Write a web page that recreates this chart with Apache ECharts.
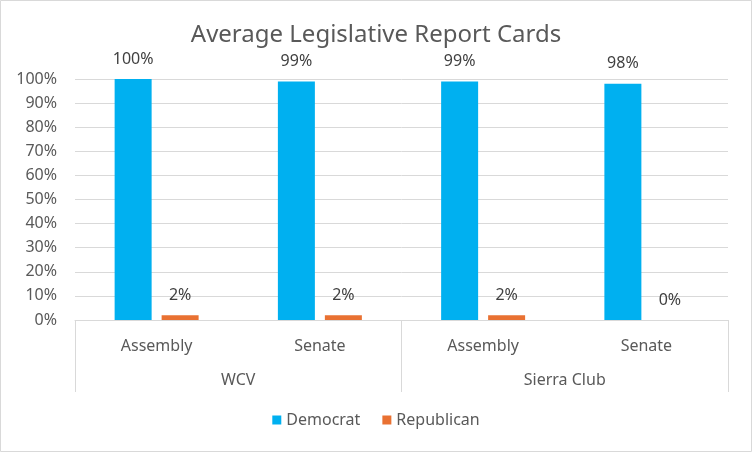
<!DOCTYPE html>
<html>
<head>
<meta charset="utf-8">
<script src="https://cdn.jsdelivr.net/npm/echarts@6/dist/echarts.min.js"></script>
<style>
  html, body { margin: 0; padding: 0; background: #fff; }
  #chart { width: 752px; height: 452px; }
</style>
</head>
<body>
<div id="chart"></div>
<script>
var groups = ['WCV', 'Sierra Club'];
var chambers = ['Assembly', 'Senate', 'Assembly', 'Senate'];
var democrat = [100, 99, 99, 98];
var republican = [2, 2, 2, 0];
var yTicks = [0, 10, 20, 30, 40, 50, 60, 70, 80, 90, 100];

var font = 'Noto Sans';
var grey = '#595959';
var lineGrey = '#d9d9d9';

var chart = echarts.init(document.getElementById('chart'));
chart.setOption({
  backgroundColor: '#fff',
  animation: false,
  textStyle: { fontFamily: font },
  title: {
    text: 'Average Legislative Report Cards',
    left: 'center',
    top: 18,
    textStyle: { fontFamily: font, fontSize: 24, fontWeight: 'normal', color: grey }
  },
  graphic: [{
    type: 'rect',
    shape: { x: 0.5, y: 0.5, width: 751, height: 451 },
    style: { fill: 'none', stroke: lineGrey, lineWidth: 1 },
    silent: true
  }],
  legend: {
    bottom: 19,
    left: 'center',
    itemWidth: 9,
    itemHeight: 9,
    itemGap: 22,
    icon: 'rect',
    textStyle: { fontFamily: font, fontSize: 16, color: grey },
    data: ['Democrat', 'Republican']
  },
  grid: { left: 75, right: 24, top: 79, bottom: 132, containLabel: false },
  xAxis: [{
    type: 'category',
    data: chambers,
    position: 'bottom',
    axisLine: { show: true, lineStyle: { color: lineGrey, width: 1 } },
    axisTick: { show: false },
    axisLabel: { margin: 18, fontSize: 16, color: grey, fontFamily: font }
  }, {
    type: 'category',
    data: groups,
    position: 'bottom',
    axisLine: { show: false },
    axisTick: { show: true, inside: false, length: 72, lineStyle: { color: lineGrey, width: 1 } },
    axisLabel: { margin: 52, fontSize: 16, color: grey, fontFamily: font }
  }],
  yAxis: {
    type: 'value',
    min: 0,
    max: 100,
    interval: 10,
    axisLine: { show: false },
    axisTick: { show: false },
    splitLine: { lineStyle: { color: lineGrey, width: 1 } },
    axisLabel: {
      margin: 18,
      fontSize: 16,
      color: grey,
      fontFamily: font,
      formatter: function (v) { return yTicks.indexOf(v) >= 0 ? v + '%' : ''; }
    }
  },
  series: [{
    name: 'Democrat',
    type: 'bar',
    data: democrat,
    barWidth: 37,
    barGap: '27%',
    itemStyle: { color: '#00B0F0' },
    label: {
      show: true, position: 'top', distance: 12,
      fontSize: 16, color: '#404040', fontFamily: font,
      formatter: '{c}%'
    }
  }, {
    name: 'Republican',
    type: 'bar',
    data: republican,
    barWidth: 37,
    itemStyle: { color: '#E97132' },
    label: {
      show: true, position: 'top', distance: 12,
      fontSize: 16, color: '#404040', fontFamily: font,
      formatter: '{c}%'
    }
  }]
});
</script>
</body>
</html>
